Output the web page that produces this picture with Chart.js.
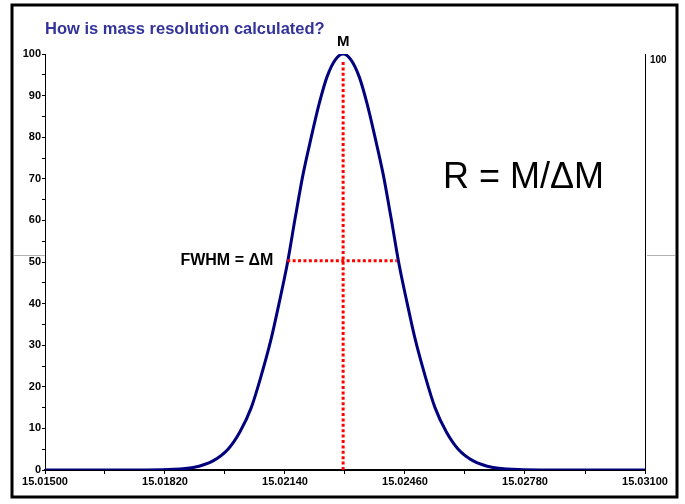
<!DOCTYPE html>
<html>
<head>
<meta charset="utf-8">
<script src="https://cdn.jsdelivr.net/npm/chart.js@4.4.1/dist/chart.umd.min.js"></script>
<style>
  body { margin: 0; background: #fff; }
</style>
</head>
<body>
<canvas id="massChart" width="685" height="504"></canvas>
<script>
// peak profile (mass, % intensity)
var massValues = [15.01500, 15.01735, 15.01828, 15.01895, 15.01948, 15.01988, 15.02020, 15.02050,
  15.02076, 15.02103, 15.02124, 15.02146, 15.02167, 15.02188, 15.02210, 15.02231, 15.02252,
  15.02274, 15.02295, 15.02316, 15.02338, 15.02359, 15.02380, 15.02402, 15.02423, 15.02444,
  15.02466, 15.02487, 15.02514, 15.02540, 15.02570, 15.02602, 15.02642, 15.02695, 15.02762,
  15.02855, 15.03100];
var intensity = [0, 0.02, 0.15, 0.6, 2.2, 5.0, 9.2, 15,
  22.5, 31.5, 40, 49.5, 60.5, 71, 80, 88, 94.5,
  98.6, 100, 98.6, 94.5, 88, 80, 71, 60.5, 49.5,
  40, 31.5, 22.5, 15, 9.2, 5.0, 2.2, 0.6, 0.15,
  0.02, 0];

var centroidMass = 15.02295;
var fwhmLeft = 15.02146;
var fwhmRight = 15.02438;
var halfHeight = 50.3;
var markerTop = 98.5;

var xTickLabels = ['15.01500', '15.01820', '15.02140', '15.02460', '15.02780', '15.03100'];
var yTickLabels = ['0', '10', '20', '30', '40', '50', '60', '70', '80', '90', '100'];

var curve = massValues.map(function (m, i) { return { x: m, y: intensity[i] }; });

Chart.defaults.font.family = '"Liberation Sans", Arial, sans-serif';
Chart.defaults.color = '#000';

var overlay = {
  id: 'overlay',
  beforeDraw: function (chart) {
    var c = chart.ctx;
    c.save();
    c.fillStyle = '#fff';
    c.fillRect(0, 0, chart.width, chart.height);
    c.restore();
  },
  afterDraw: function (chart) {
    var c = chart.ctx;
    var xs = chart.scales.x, ys = chart.scales.y;
    c.save();
    // slide frame
    c.strokeStyle = '#000';
    c.lineWidth = 3;
    c.strokeRect(12, 5, 665, 492);
    // faint guide lines at the edges
    c.strokeStyle = '#b4b4b4';
    c.lineWidth = 1;
    c.beginPath();
    c.moveTo(14, 255.5); c.lineTo(45, 255.5);
    c.moveTo(647, 255.5); c.lineTo(675, 255.5);
    c.stroke();

    c.fillStyle = '#333399';
    c.font = 'bold 16.5px "Liberation Sans", Arial, sans-serif';
    c.textAlign = 'left';
    c.textBaseline = 'alphabetic';
    c.fillText('How is mass resolution calculated?', 45, 34);

    c.fillStyle = '#000';
    c.font = 'bold 15px "Liberation Sans", Arial, sans-serif';
    c.textAlign = 'center';
    c.fillText('M', xs.getPixelForValue(centroidMass), 46);

    c.font = 'bold 16px "Liberation Sans", Arial, sans-serif';
    c.textAlign = 'right';
    c.fillText('FWHM = \u0394M', xs.getPixelForValue(fwhmLeft) - 14, ys.getPixelForValue(halfHeight) + 4);

    c.font = '36px "Liberation Sans", Arial, sans-serif';
    c.textAlign = 'left';
    c.fillText('R = M/\u0394M', 443, 188);
    c.restore();
  }
};

var ctx = document.getElementById('massChart').getContext('2d');
var massChart = new Chart(ctx, {
  type: 'scatter',
  data: {
    datasets: [{
      data: [{ x: centroidMass, y: 0 }, { x: centroidMass, y: markerTop }],
      showLine: true,
      borderColor: '#ff0000',
      borderWidth: 3,
      borderDash: [3, 2.4],
      borderCapStyle: 'butt',
      pointRadius: 0
    }, {
      data: [{ x: fwhmLeft, y: halfHeight }, { x: fwhmRight, y: halfHeight }],
      showLine: true,
      borderColor: '#ff0000',
      borderWidth: 3,
      borderDash: [3, 2.4],
      borderCapStyle: 'butt',
      pointRadius: 0
    }, {
      data: curve,
      showLine: true,
      borderColor: '#00007f',
      borderWidth: 3,
      cubicInterpolationMode: 'monotone',
      pointRadius: 0
    }]
  },
  options: {
    responsive: false,
    animation: false,
    layout: { padding: { top: 54, left: 0, right: 0, bottom: 0 } },
    plugins: {
      legend: { display: false },
      tooltip: { enabled: false }
    },
    scales: {
      x: {
        type: 'linear',
        min: 15.015,
        max: 15.031,
        afterFit: function (s) { s.height = 34; },
        border: { color: '#000', width: 2 },
        grid: { drawOnChartArea: false, tickLength: 4, color: '#000', tickWidth: 1 },
        ticks: {
          stepSize: 0.0016,
          autoSkip: false,
          maxRotation: 0,
          padding: 1,
          font: { size: 11, weight: 'bold' },
          callback: function (v, i) { return i % 2 === 0 ? xTickLabels[i / 2] : ''; }
        }
      },
      y: {
        min: 0,
        max: 100,
        afterFit: function (s) { s.width = 45; },
        border: { color: '#000', width: 1 },
        grid: { drawOnChartArea: false, tickLength: 3, color: '#000' },
        ticks: {
          stepSize: 5,
          padding: 1,
          font: { size: 11, weight: 'bold' },
          callback: function (v) { return v % 10 === 0 ? yTickLabels[v / 10] : ''; }
        }
      },
      y2: {
        position: 'right',
        min: 0,
        max: 100,
        afterFit: function (s) { s.width = 40; },
        border: { color: '#000', width: 1 },
        grid: { drawOnChartArea: false, drawTicks: false },
        ticks: {
          stepSize: 100,
          padding: 5,
          labelOffset: 6,
          font: { size: 10, weight: 'bold' },
          callback: function (v) { return v === 100 ? '100' : ''; }
        }
      }
    }
  },
  plugins: [overlay]
});
</script>
</body>
</html>
